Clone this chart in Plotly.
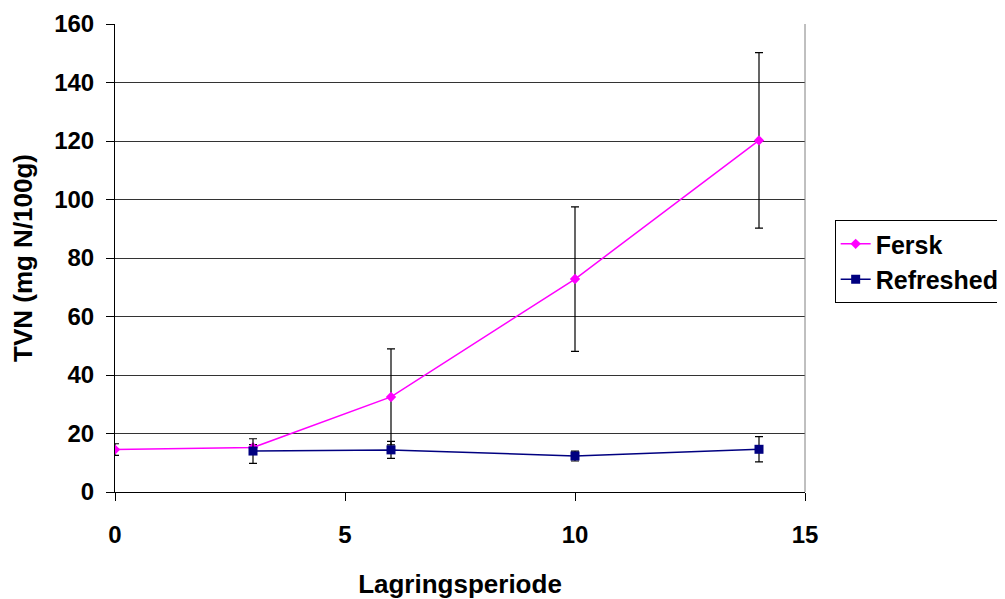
import plotly.graph_objects as go

x_fersk = [0, 3, 6, 10, 14]
y_fersk = [14.5, 15.2, 32.5, 72.8, 120.2]
err_fersk = [2.0, 1.0, 16.4, 24.7, 30.0]

x_refr = [3, 6, 10, 14]
y_refr = [14.0, 14.4, 12.3, 14.6]
err_refr = [4.2, 2.9, 1.7, 4.3]

x_ticks = [0, 5, 10, 15]
y_ticks = [0, 20, 40, 60, 80, 100, 120, 140, 160]

font_fam = "Liberation Sans, Arial, sans-serif"

fig = go.Figure()
fig.add_trace(go.Scatter(
    x=x_fersk, y=y_fersk, name="Fersk", mode="lines+markers",
    line=dict(color="#FF00FF", width=1.5),
    marker=dict(symbol="diamond", size=8, color="#FF00FF"),
    error_y=dict(type="data", array=err_fersk, visible=True, color="black", thickness=1.2, width=4),
))
fig.add_trace(go.Scatter(
    x=x_refr, y=y_refr, name="Refreshed", mode="lines+markers",
    line=dict(color="#000080", width=1.5),
    marker=dict(symbol="square", size=9, color="#000080"),
    error_y=dict(type="data", array=err_refr, visible=True, color="black", thickness=1.2, width=4),
))

# page body has an 8px margin, so the figure is drawn 8px right/down
fig.update_layout(
    width=997, height=591,
    margin=dict(l=107, r=200, t=16, b=107, autoexpand=False),
    paper_bgcolor="white", plot_bgcolor="white",
    font=dict(family=font_fam, size=24, color="black"),
    legend=dict(
        x=1.043, y=0.581, xanchor="left", yanchor="top",
        bordercolor="black", borderwidth=1,
        font=dict(family=font_fam, size=25, color="black", weight="bold"),
        bgcolor="white", tracegroupgap=0, itemwidth=30,
    ),
    xaxis=dict(
        range=[0, 15], tickvals=x_ticks, showgrid=False, zeroline=False,
        showline=True, linecolor="black", linewidth=1,
        ticks="outside", ticklen=8, tickcolor="black", ticklabelstandoff=13,
        tickfont=dict(family=font_fam, size=24, weight="bold"),
        title=dict(text="<b>Lagringsperiode</b>", font=dict(size=26), standoff=28),
    ),
    yaxis=dict(
        range=[0, 160], tickvals=y_ticks, showgrid=True, gridcolor="#333333", gridwidth=1,
        zeroline=False, showline=True, linecolor="black", linewidth=1,
        ticks="outside", ticklen=8, tickcolor="black", ticklabelstandoff=7,
        tickfont=dict(family=font_fam, size=24, weight="bold"),
        title=dict(text="<b>TVN (mg N/100g)</b>", font=dict(size=26), standoff=16),
    ),
    showlegend=True,
)
# right border of plot area
fig.add_shape(type="line", xref="paper", yref="paper", x0=1, x1=1, y0=0, y1=1,
              line=dict(color="#808080", width=1))

fig.write_html("out.html")
